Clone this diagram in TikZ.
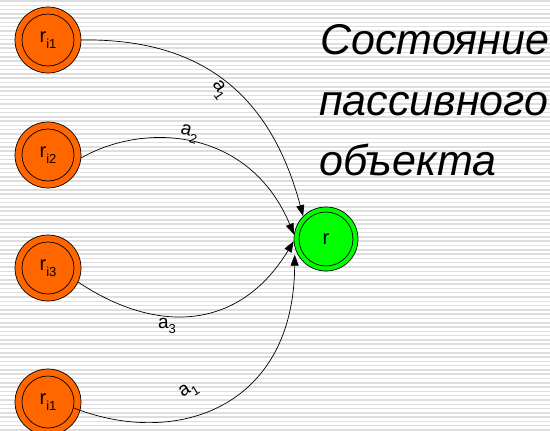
\documentclass[tikz,border=0pt]{standalone}
\usepackage{fontspec}
\setmainfont{Liberation Sans}
\newfontfamily\ttlfont{Liberation Sans Italic}
\usetikzlibrary{arrows.meta,calc}
\definecolor{orng}{HTML}{FF6600}
\definecolor{grn}{HTML}{00FF00}
\definecolor{stripec}{HTML}{DEDEDE}
\newcommand\subtx[2]{#1\raisebox{-0.3em}{\fontsize{13}{13}\selectfont #2}}
\tikzset{
  st/.style={circle, draw, line width=0.7pt, minimum size=66pt, inner sep=0pt, fill=orng,
    font=\fontsize{20}{20}\selectfont,
    path picture={\draw[line width=0.7pt] (path picture bounding box.center) circle (26pt);}},
  gst/.style={circle, draw, line width=0.7pt, minimum size=64pt, inner sep=0pt, fill=grn,
    font=\fontsize{20}{20}\selectfont,
    path picture={\draw[line width=0.7pt] (path picture bounding box.center) circle (27pt);}},
  edge/.style={line width=0.7pt, -{Triangle[length=11pt,width=8pt]}},
  elab/.style={inner sep=0pt, font=\fontsize{19}{19}\selectfont},
  ttl/.style={inner sep=0pt, anchor=base west, font=\ttlfont\fontsize{43}{43}\selectfont},
  stripe/.style={draw=stripec, line width=1.5pt}
}
\begin{document}
\begin{tikzpicture}[x=1pt,y=-1pt]
\useasboundingbox (0,0) rectangle (550,431);
\clip (0,0) rectangle (550,431);
\fill[white] (0,0) rectangle (550,431);
\foreach \i in {0,...,100} \draw[stripe] (0,{1+\i*4.29}) -- (550,{1+\i*4.29});

\node[st] (A) at (48,40) {\subtx{r}{i1}};
\node[st] (B) at (48,155) {\subtx{r}{i2}};
\node[st] (C) at (48,268) {\subtx{r}{i3}};
\node[st] (D) at (48,402) {\subtx{r}{i1}};
\node[gst] (R) at (326,239) {r};

\draw[edge] (A.east) .. controls (211,38) and (273,104) .. (R.135);
\draw[edge] (B.-5) .. controls (146,121) and (250,129) .. (R.172);
\draw[edge] (C.-25) .. controls (154,333) and (238,333) .. (R.184);
\draw[edge] ($(D.center)+(-13:26.5pt)$) .. controls (176,448) and (294,408) .. ([xshift=-3pt]R.209);

\node[elab, rotate=-55] (l1) at (219,90) {\subtx{a}{1}};
\node[elab, rotate=-15] (l2) at (189,134) {\subtx{a}{2}};
\node[elab] (l3) at (167,326) {\subtx{a}{3}};
\node[elab, rotate=32] (l4) at (189,391) {\subtx{a}{1}};

\node[ttl] (t1) at (320,55) {Состояние};
\node[ttl] (t2) at (319,115) {пассивного};
\node[ttl] (t3) at (319,175) {объекта};
\end{tikzpicture}
\end{document}
